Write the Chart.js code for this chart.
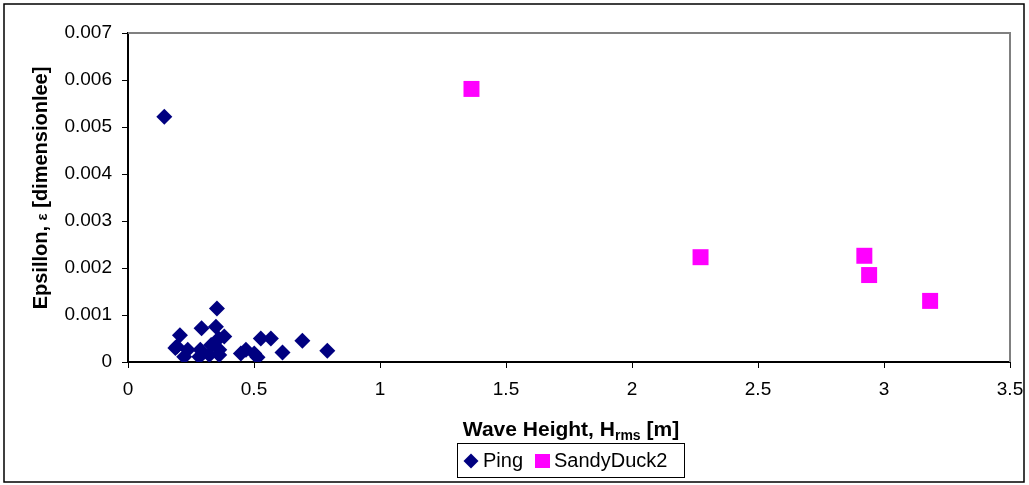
<!DOCTYPE html>
<html>
<head>
<meta charset="utf-8">
<script src="https://cdn.jsdelivr.net/npm/chart.js@4.4.1/dist/chart.umd.min.js"></script>
<style>
  html, body { margin: 0; padding: 0; background: #fff; }
  canvas { display: block; }
</style>
</head>
<body>
<canvas id="chart" width="1029" height="485"></canvas>
<script>
// 數據 (從圖上讀取的估計值)
const pingX = [0.144, 0.353, 0.206, 0.292, 0.349, 0.382, 0.36, 0.194, 0.188, 0.223, 0.237, 0.287, 0.283,
               0.323, 0.362, 0.362, 0.33, 0.448, 0.468, 0.501, 0.514, 0.527, 0.567, 0.613, 0.692, 0.791];
const pingY = [0.00522, 0.00114, 0.00057, 0.00072, 0.00075, 0.00054, 0.00050, 0.00033, 0.00030, 0.00011, 0.00026, 0.00026, 0.00011,
               0.00015, 0.00026, 0.00015, 0.00036, 0.00018, 0.00026, 0.00018, 0.00010, 0.00050, 0.00050, 0.00020, 0.00045, 0.00024];
const sandyX = [1.363, 2.272, 2.922, 2.941, 3.183];
const sandyY = [0.00581, 0.00223, 0.00226, 0.00185, 0.00130];

const xTickLabels = ['0', '0.5', '1', '1.5', '2', '2.5', '3', '3.5'];
const yTickLabels = ['0', '0.001', '0.002', '0.003', '0.004', '0.005', '0.006', '0.007'];

const seriesNames = ['Ping', 'SandyDuck2'];
const seriesColors = ['#000080', '#FF00FF'];

const FONT = '"Liberation Sans", Arial, sans-serif';
Chart.defaults.font.family = FONT;
Chart.defaults.color = '#000';

const toPoints = (xs, ys) => xs.map((x, i) => ({ x: x, y: ys[i] }));

// 外框、繪圖區邊框、軸標題和圖例
const decorPlugin = {
    id: 'decor',
    afterDraw: (chart) => {
        const { ctx, chartArea: { left, top, right, bottom } } = chart;
        ctx.save();

        // 外框
        ctx.strokeStyle = '#000';
        ctx.lineWidth = 1.5;
        ctx.strokeRect(4, 4, 1020, 478);

        // 繪圖區上、右灰色邊框
        ctx.strokeStyle = '#808080';
        ctx.lineWidth = 2;
        ctx.beginPath();
        ctx.moveTo(left, top);
        ctx.lineTo(right, top);
        ctx.lineTo(right, bottom);
        ctx.stroke();

        // X 軸標題 (含下標)
        ctx.fillStyle = '#000';
        ctx.textBaseline = 'alphabetic';
        ctx.textAlign = 'left';
        const bigFont = 'bold 21px ' + FONT;
        const subFont = 'bold 14px ' + FONT;
        const p1 = 'Wave Height, H', p2 = 'rms', p3 = ' [m]';
        ctx.font = bigFont;
        const w1 = ctx.measureText(p1).width, w3 = ctx.measureText(p3).width;
        ctx.font = subFont;
        const w2 = ctx.measureText(p2).width;
        let tx = (left + right) / 2 + 2 - (w1 + w2 + w3) / 2;
        const ty = 436;
        ctx.font = bigFont;
        ctx.fillText(p1, tx, ty);
        tx += w1;
        ctx.font = subFont;
        ctx.fillText(p2, tx, ty + 4);
        tx += w2;
        ctx.font = bigFont;
        ctx.fillText(p3, tx, ty);

        // Y 軸標題 (旋轉)
        ctx.save();
        ctx.translate(47, 188);
        ctx.rotate(-Math.PI / 2);
        const q1 = 'Epsillon, ', q2 = 'ε', q3 = ' [dimensionlee]';
        const yFont = 'bold 20px ' + FONT, epsFont = 'bold 15px ' + FONT;
        ctx.font = yFont;
        const v1 = ctx.measureText(q1).width, v3 = ctx.measureText(q3).width;
        ctx.font = epsFont;
        const v2 = ctx.measureText(q2).width;
        let sx = -(v1 + v2 + v3) / 2;
        ctx.font = yFont;
        ctx.fillText(q1, sx, 0);
        sx += v1;
        ctx.font = epsFont;
        ctx.fillText(q2, sx, 0);
        sx += v2;
        ctx.font = yFont;
        ctx.fillText(q3, sx, 0);
        ctx.restore();

        // 圖例
        ctx.strokeStyle = '#000';
        ctx.lineWidth = 1;
        ctx.strokeRect(457.5, 443.5, 227, 34);
        ctx.fillStyle = seriesColors[0];
        ctx.beginPath();
        ctx.moveTo(471, 453.5);
        ctx.lineTo(478.5, 461);
        ctx.lineTo(471, 468.5);
        ctx.lineTo(463.5, 461);
        ctx.closePath();
        ctx.fill();
        ctx.fillStyle = seriesColors[1];
        ctx.fillRect(535, 454, 15, 14);
        ctx.fillStyle = '#000';
        ctx.font = '20px ' + FONT;
        ctx.fillText(seriesNames[0], 483, 467);
        ctx.fillText(seriesNames[1], 554, 467);

        ctx.restore();
    }
};

new Chart(document.getElementById('chart').getContext('2d'), {
    type: 'scatter',
    data: {
        datasets: [
            {
                label: seriesNames[0],
                data: toPoints(pingX, pingY),
                pointStyle: 'rectRot',
                pointRadius: 8,
                pointHoverRadius: 8,
                backgroundColor: seriesColors[0],
                borderColor: seriesColors[0],
                borderWidth: 0
            },
            {
                label: seriesNames[1],
                data: toPoints(sandyX, sandyY),
                pointStyle: 'rect',
                pointRadius: 11.3,
                pointHoverRadius: 11.3,
                backgroundColor: seriesColors[1],
                borderColor: seriesColors[1],
                borderWidth: 0
            }
        ]
    },
    options: {
        responsive: false,
        animation: false,
        layout: { padding: { left: 0, top: 33, right: 19, bottom: 0 } },
        plugins: {
            legend: { display: false },
            tooltip: { enabled: false }
        },
        scales: {
            x: {
                type: 'linear',
                min: 0,
                max: 3.5,
                afterFit: (s) => { s.height = 123; s.paddingLeft = 0; s.paddingRight = 0; },
                afterBuildTicks: (s) => { s.ticks = xTickLabels.map(t => ({ value: Number(t) })); },
                ticks: {
                    font: { size: 19 },
                    padding: 10,
                    maxRotation: 0,
                    autoSkip: false,
                    callback: (v, i) => xTickLabels[i]
                },
                grid: { drawOnChartArea: false, drawTicks: true, tickLength: 6, color: '#000', lineWidth: 1 },
                border: { display: true, color: '#000', width: 2 }
            },
            y: {
                type: 'linear',
                min: 0,
                max: 0.007,
                afterFit: (s) => { s.width = 128; s.paddingTop = 0; s.paddingBottom = 0; },
                afterBuildTicks: (s) => { s.ticks = yTickLabels.map(t => ({ value: Number(t) })); },
                ticks: {
                    font: { size: 19 },
                    padding: 10,
                    autoSkip: false,
                    callback: (v, i) => yTickLabels[i]
                },
                grid: { drawOnChartArea: false, drawTicks: true, tickLength: 6, color: '#000', lineWidth: 1 },
                border: { display: true, color: '#000', width: 2 }
            }
        }
    },
    plugins: [decorPlugin]
});
</script>
</body>
</html>
